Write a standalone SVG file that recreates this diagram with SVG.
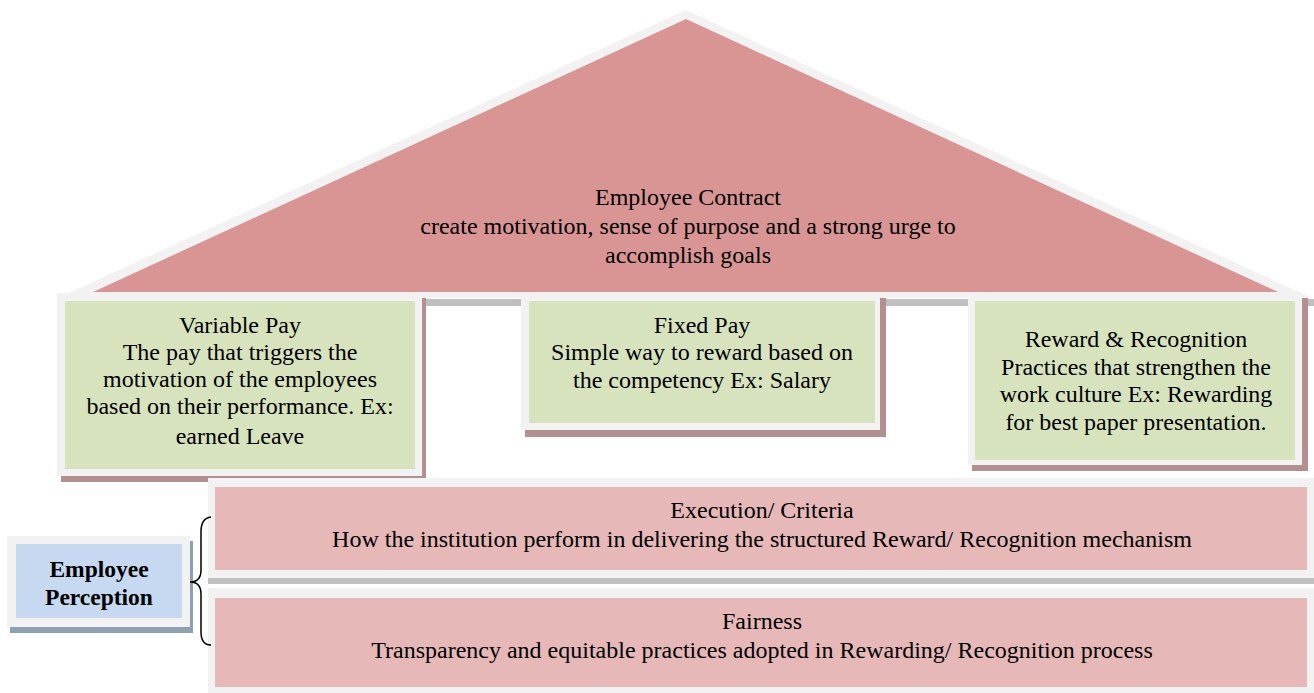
<svg xmlns="http://www.w3.org/2000/svg" width="1314" height="693" viewBox="0 0 1314 693">
<style>
.t{font-family:"Liberation Serif","Times New Roman",serif;font-size:24px;fill:#000;text-anchor:middle}
.b{font-weight:bold;font-size:23.5px}
.frame{fill:#f2f2f2}
.sh{fill:#b38f8f}
.gsh{fill:#bfbfbf}
.green{fill:#d7e3bc}
.pink{fill:#e6b8b7}
</style>
<rect width="1314" height="693" fill="#fff"/>
<g id="roof">
<polygon class="gsh" points="425,299 1314,299 1314,306 425,306"/>
<polygon class="frame" points="686,10 1312,298 58,298"/>
<polygon fill="#d99594" points="686,19 1278,292 93,292"/>
<text class="t" x="688" y="205">Employee Contract</text>
<text class="t" x="688" y="234">create motivation, sense of purpose and a strong urge to</text>
<text class="t" x="688" y="263">accomplish goals</text>
</g>
<g id="variable-pay">
<rect class="sh" x="61" y="298" width="365" height="184"/>
<rect class="frame" x="57" y="293" width="365" height="183"/>
<rect class="green" x="65" y="301" width="350" height="168"/>
<text class="t" x="240" y="333">Variable Pay</text>
<text class="t" x="240" y="360">The pay that triggers the</text>
<text class="t" x="240" y="387">motivation of the employees</text>
<text class="t" x="240" y="414">based on their performance. Ex:</text>
<text class="t" x="240" y="444">earned Leave</text>
</g>
<g id="fixed-pay">
<rect class="sh" x="525" y="298" width="361" height="139"/>
<rect class="frame" x="521" y="293" width="359" height="137"/>
<rect class="green" x="529" y="301" width="346" height="122"/>
<text class="t" x="702" y="333">Fixed Pay</text>
<text class="t" x="702" y="360">Simple way to reward based on</text>
<text class="t" x="702" y="388">the competency Ex: Salary</text>
</g>
<g id="reward-recognition">
<rect class="sh" x="972" y="298" width="336" height="173"/>
<rect class="frame" x="968" y="293" width="334" height="172"/>
<rect class="green" x="975" y="301" width="320" height="159"/>
<text class="t" x="1136" y="347">Reward &amp; Recognition</text>
<text class="t" x="1136" y="375">Practices that strengthen the</text>
<text class="t" x="1136" y="402">work culture Ex: Rewarding</text>
<text class="t" x="1136" y="430">for best paper presentation.</text>
</g>
<g id="execution-criteria">
<rect class="gsh" x="208" y="578" width="1106" height="6"/>
<rect class="frame" x="208" y="478" width="1106" height="100"/>
<rect class="pink" x="215" y="487" width="1092" height="83"/>
<text class="t" x="762" y="518">Execution/ Criteria</text>
<text class="t" x="762" y="547">How the institution perform in delivering the structured Reward/ Recognition mechanism</text>
</g>
<g id="fairness">
<rect class="frame" x="208" y="588" width="1106" height="105"/>
<rect class="pink" x="215" y="598" width="1092" height="89"/>
<text class="t" x="762" y="629">Fairness</text>
<text class="t" x="762" y="658">Transparency and equitable practices adopted in Rewarding/ Recognition process</text>
</g>
<g id="employee-perception">
<rect fill="#8ea0b4" x="10" y="541" width="183" height="92"/>
<rect class="frame" x="7" y="536" width="183" height="91"/>
<rect fill="#c6d9f0" x="16" y="544" width="166" height="74"/>
<text class="t b" x="99" y="577">Employee</text>
<text class="t b" x="99" y="605">Perception</text>
</g>
<g id="connectors">
<path d="M211,517 Q201,518 201,532 L201,570 Q201,582 190,582 Q201,582 201,594 L201,632 Q201,645 211,645" fill="none" stroke="#000" stroke-width="1.5"/>
</g>
</svg>
